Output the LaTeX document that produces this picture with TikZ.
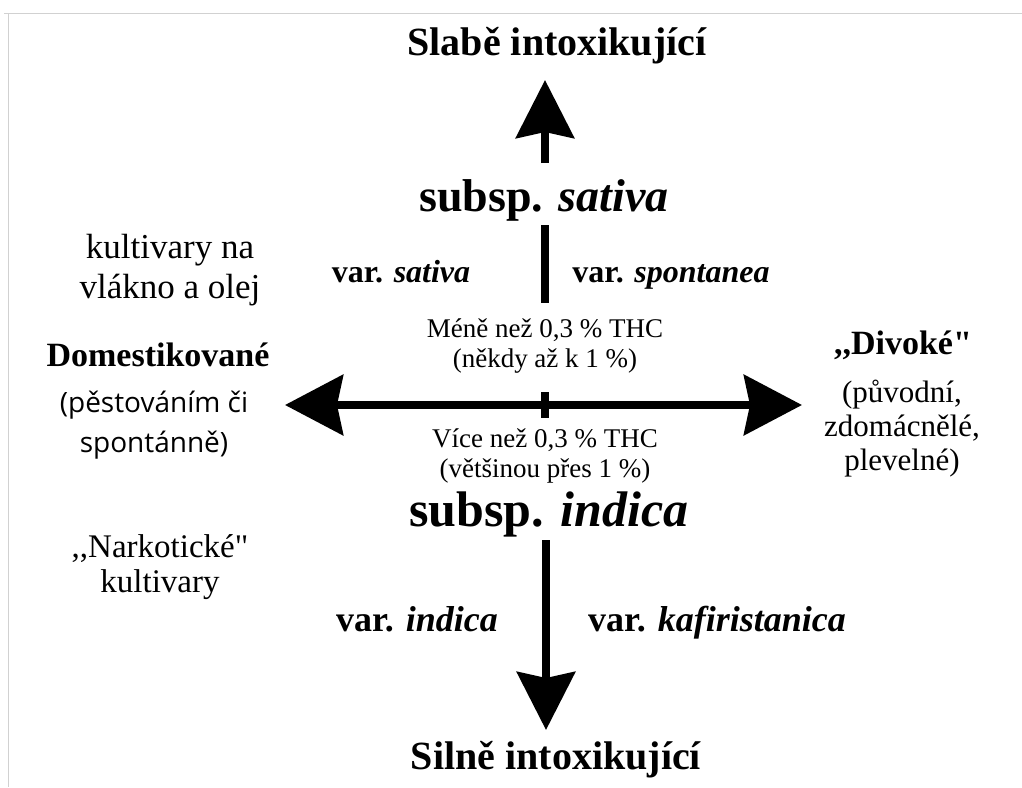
\documentclass[tikz,border=0pt]{standalone}
\usepackage{fontspec}
\setmainfont{Liberation Serif}[Ligatures=TeXOff, BoldItalicFont={Liberation Serif Bold Italic}]
\newfontfamily\uisans{Open Sans}
\usetikzlibrary{arrows.meta}
\begin{document}
\begin{tikzpicture}[x=1pt,y=-1pt,
        heading/.style={font=\fontsize{40}{42}\selectfont\bfseries},
        subsp/.style={font=\fontsize{46}{48}\selectfont\bfseries},
        variety/.style={font=\fontsize{32}{34}\selectfont\bfseries, anchor=base},
        thc/.style={font=\fontsize{27}{30}\selectfont, align=center},
        side/.style={font=\fontsize{34}{40}\selectfont, align=center},
        axis/.style={line width=8pt},
        tip/.style={-{Stealth[length=58pt,width=58pt,inset=6pt]}},
        bothtips/.style={{Stealth[length=58pt,width=60pt,inset=6pt]}-{Stealth[length=58pt,width=60pt,inset=6pt]}}]
    \useasboundingbox (0,0) rectangle (1022,787);
    \draw[black!18] (4,13) -- (1022,13) (8,13) -- (8,787);
    % vertical axis
    \node[heading] (weak) at (557,46) {Slabě intoxikující};
    \node[subsp] (sativa) at (544,200) {subsp. {\itshape sativa}};
    \node[variety] (varsat) at (401,282) {var. {\itshape sativa}};
    \node[variety] (varspon) at (671,282) {var. {\itshape spontanea}};
    \node[thc] (less) at (545,346) {Méně než 0,3 \% THC\\(někdy až k 1 \%)};
    \node[thc] (more) at (545,456) {Více než 0,3 \% THC\\(většinou přes 1 \%)};
    \node[subsp, font=\fontsize{50}{52}\selectfont\bfseries] (indica) at (549,514) {subsp. {\itshape indica}};
    \node[variety, font=\fontsize{36}{38}\selectfont\bfseries] (varind) at (417,631) {var. {\itshape indica}};
    \node[variety, font=\fontsize{36}{38}\selectfont\bfseries] (varkaf) at (717,631) {var. {\itshape kafiristanica}};
    \node[heading] (strong) at (556,760) {Silně intoxikující};
    \coordinate (upbase) at (545,163);
    \coordinate (uptip) at (545,80);
    \coordinate (bartop) at (545,225);
    \coordinate (barbot) at (545,303);
    \coordinate (downbase) at (546,540);
    \coordinate (downtip) at (546,730);
    \draw[axis,tip] (upbase) -- (uptip);
    \draw[axis] (bartop) -- (barbot);
    \draw[axis,tip] (downbase) -- (downtip);
    % horizontal axis
    \coordinate (westtip) at (285,405);
    \coordinate (easttip) at (802,405);
    \coordinate (ticktop) at (545,392);
    \coordinate (tickbot) at (545,418);
    \draw[axis,bothtips] (westtip) -- (easttip);
    \draw[axis] (ticktop) -- (tickbot);
    % left side
    \node[side, font=\fontsize{35}{40}\selectfont] (fibre) at (170,270) {kultivary na\\vlákno a olej};
    \node[side, font=\fontsize{34}{40}\selectfont\bfseries] (domestic) at (158,355) {Domestikované};
    \node[side, font=\fontsize{28}{40}\selectfont\uisans] (grown) at (154,425) {(pěstováním či\\spontánně)};
    \node[side, font=\fontsize{33}{35}\selectfont] (narco) at (160,567) {,,Narkotické"\\kultivary};
    % right side
    \node[side, font=\fontsize{34}{40}\selectfont\bfseries] (wild) at (903,345) {,,Divoké"};
    \node[side, font=\fontsize{31}{34}\selectfont] (origin) at (902,429) {(původní,\\zdomácnělé,\\plevelné)};
\end{tikzpicture}
\end{document}
